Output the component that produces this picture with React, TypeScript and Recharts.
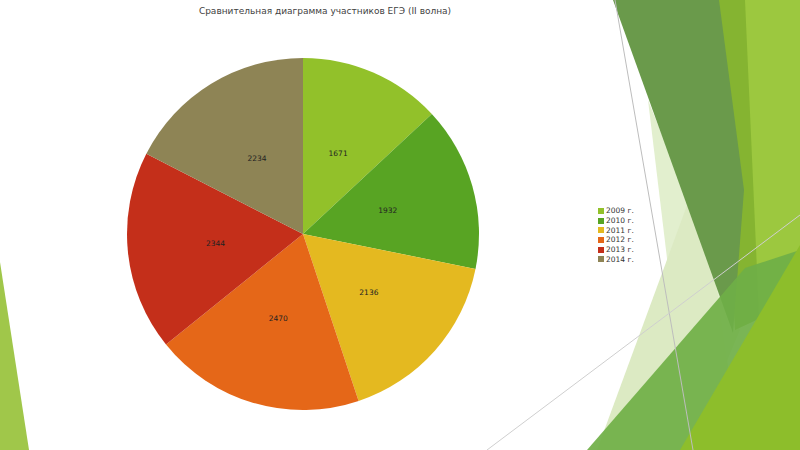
import React from "react";
import { PieChart, Pie, Cell, Legend } from "recharts";

const years = ["2009 г.", "2010 г.", "2011 г.", "2012 г.", "2013 г.", "2014 г."];
const participants = [1671, 1932, 2136, 2470, 2344, 2234];
const colors = ["#92C12A", "#58A423", "#E4B920", "#E56718", "#C42F1A", "#8E8455"];

const data = years.map((name, i) => ({ name, value: participants[i] }));

const RAD = Math.PI / 180;

const renderLabel = (props: any) => {
  const { cx, cy, midAngle, outerRadius, value } = props;
  const r = outerRadius * 0.5;
  const x = cx + r * Math.cos(-midAngle * RAD);
  const y = cy + r * Math.sin(-midAngle * RAD);
  return (
    <text
      x={x}
      y={y}
      fill="#222"
      fontSize={7.5}
      fontFamily="DejaVu Sans, sans-serif"
      textAnchor="middle"
      dominantBaseline="central"
    >
      {value}
    </text>
  );
};

const renderLegend = (props: any) => {
  const { payload } = props;
  return (
    <div style={{ fontFamily: "DejaVu Sans, sans-serif", fontSize: 7.5, color: "#333" }}>
      {payload.map((entry: any) => (
        <div key={entry.value} style={{ display: "flex", alignItems: "center", height: 9.7 }}>
          <span
            style={{
              display: "inline-block",
              width: 6,
              height: 6,
              background: entry.color,
              marginRight: 2,
            }}
          />
          <span>{entry.value}</span>
        </div>
      ))}
    </div>
  );
};

// decorative slide background (theme facets)
const Decor = () => (
  <svg width={800} height={450} style={{ position: "absolute", left: 0, top: 0 }}>
    <polygon points="0,262 0,450 29,450" fill="#A0C74A" />
    <polygon points="648,100 740,330 690,450" fill="#E2EFCE" />
    <polygon points="597,450 700,170 740,450" fill="#DCEAC3" />
    <polygon points="715,0 800,0 800,300 735,330" fill="#85B431" />
    <polygon points="745,0 800,0 800,450 765,450" fill="#9CC83F" />
    <polygon points="613,0 719,0 744,190 733,333" fill="#6A9A4B" />
    <polygon points="587,450 745,268 800,250 800,450" fill="#6FAF46" opacity={0.92} />
    <polygon points="680,450 800,245 800,450" fill="#8DBE2B" />
    <line x1={615} y1={0} x2={693} y2={450} stroke="#BDBDBD" strokeWidth={1} />
    <line x1={487} y1={450} x2={800} y2={215} stroke="#CFCFCF" strokeWidth={1} />
  </svg>
);

export default function App() {
  return (
    <div
      style={{
        position: "fixed",
        left: 0,
        top: 0,
        width: 800,
        height: 450,
        background: "#fff",
        overflow: "hidden",
      }}
    >
      <Decor />
      <div
        style={{
          position: "absolute",
          left: 0,
          top: 6,
          width: 650,
          textAlign: "center",
          fontFamily: "DejaVu Sans, sans-serif",
          fontSize: 9,
          color: "#3F3F3F",
        }}
      >
        Сравнительная диаграмма участников ЕГЭ (II волна)
      </div>
      <div style={{ position: "absolute", left: 0, top: 0 }}>
        <PieChart width={800} height={450}>
          <Pie
            data={data}
            dataKey="value"
            nameKey="name"
            cx={298}
            cy={229}
            outerRadius={176}
            startAngle={90}
            endAngle={-270}
            stroke="none"
            label={renderLabel}
            labelLine={false}
            isAnimationActive={false}
          >
            {data.map((d, i) => (
              <Cell key={d.name} fill={colors[i]} />
            ))}
          </Pie>
          <Legend
            layout="vertical"
            content={renderLegend}
            wrapperStyle={{ left: 598, top: 206, width: 60 }}
          />
        </PieChart>
      </div>
    </div>
  );
}
